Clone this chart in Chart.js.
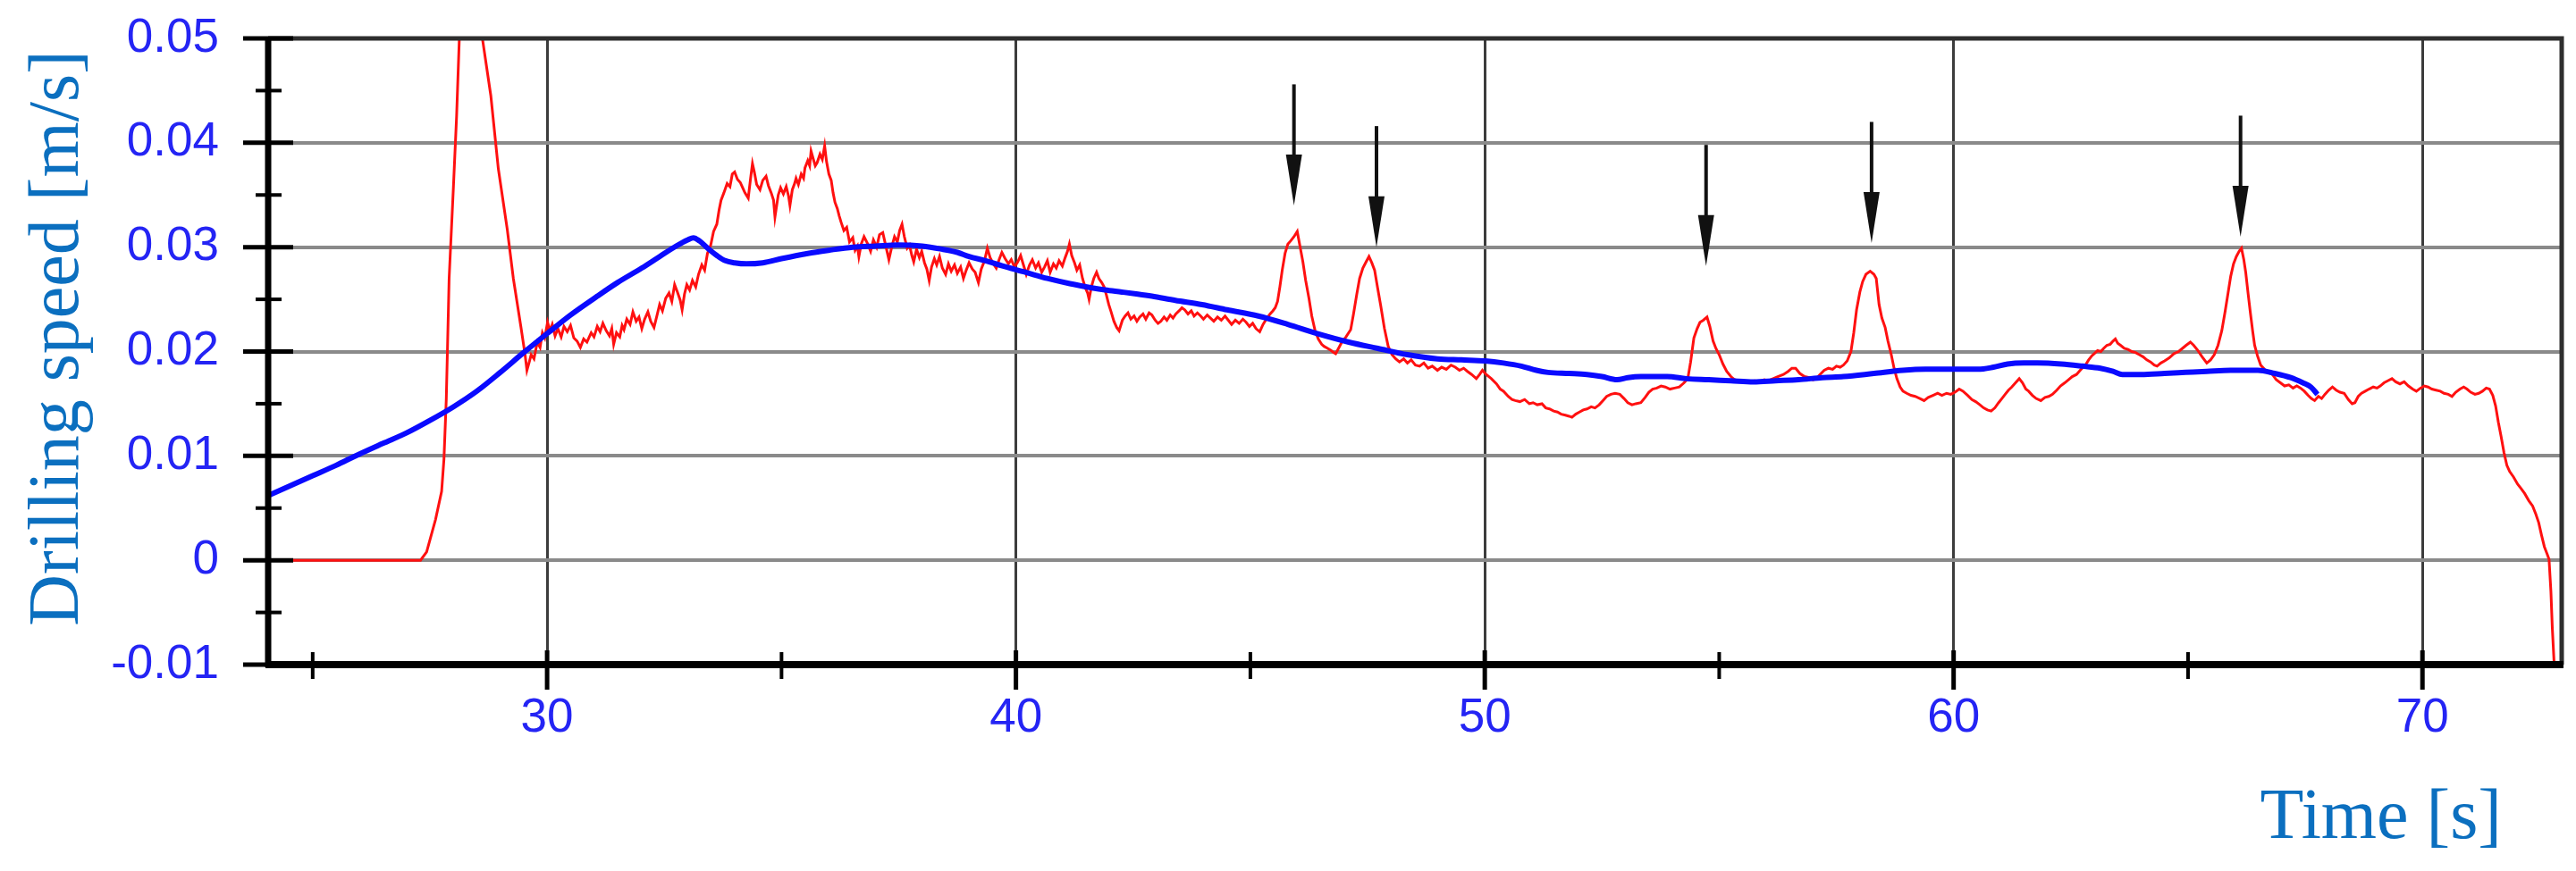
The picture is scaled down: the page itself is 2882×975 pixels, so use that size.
<!DOCTYPE html>
<html>
<head>
<meta charset="utf-8">
<title>Drilling speed</title>
<script src="https://cdn.jsdelivr.net/npm/chart.js@4.4.0/dist/chart.umd.min.js"></script>
<style>
  html, body { margin: 0; padding: 0; background: #fff; }
  canvas { display: block; }
</style>
</head>
<body>
<canvas id="speed-chart" width="2882" height="975"></canvas>
<script>
// axis ticks
var xTickValues = [30, 40, 50, 60, 70];
var xMinorTicks = [25, 35, 45, 55, 65];
var yTickValues = [-0.01, 0, 0.01, 0.02, 0.03, 0.04, 0.05];
var yTickLabels = ['-0.01', '0', '0.01', '0.02', '0.03', '0.04', '0.05'];
var yMinorTicks = [-0.005, 0.005, 0.015, 0.025, 0.035, 0.045];

// measured drilling speed (red)
var redTime = [
  24.05, 27.30, 27.43, 27.62, 27.75, 27.80, 27.85, 27.91, 28.00, 28.07,
  28.13, 28.37, 28.61, 28.80, 28.96, 29.15, 29.28, 29.44, 29.53, 29.57,
  29.62, 29.66, 29.72, 29.79, 29.85, 29.90, 29.95, 30.01, 30.06, 30.11,
  30.17, 30.23, 30.30, 30.36, 30.43, 30.50, 30.57, 30.64, 30.71, 30.78,
  30.85, 30.94, 31.00, 31.07, 31.13, 31.19, 31.26, 31.33, 31.38, 31.42,
  31.48, 31.55, 31.60, 31.64, 31.70, 31.77, 31.83, 31.90, 31.96, 32.02,
  32.08, 32.15, 32.21, 32.28, 32.34, 32.40, 32.46, 32.53, 32.60, 32.66,
  32.72, 32.78, 32.84, 32.88, 32.93, 32.98, 33.04, 33.10, 33.17, 33.23,
  33.30, 33.36, 33.42, 33.49, 33.55, 33.62, 33.67, 33.71, 33.77, 33.84,
  33.90, 33.95, 34.00, 34.06, 34.12, 34.16, 34.22, 34.29, 34.34, 34.38,
  34.42, 34.47, 34.54, 34.60, 34.67, 34.72, 34.78, 34.83, 34.86, 34.90,
  34.93, 34.98, 35.04, 35.10, 35.15, 35.18, 35.23, 35.28, 35.31, 35.36,
  35.42, 35.47, 35.50, 35.56, 35.60, 35.63, 35.68, 35.72, 35.76, 35.82,
  35.87, 35.92, 35.96, 36.01, 36.06, 36.10, 36.14, 36.19, 36.23, 36.27,
  36.33, 36.39, 36.45, 36.52, 36.57, 36.62, 36.65, 36.70, 36.76, 36.84,
  36.90, 36.96, 37.03, 37.09, 37.16, 37.22, 37.29, 37.35, 37.41, 37.47,
  37.52, 37.57, 37.62, 37.68, 37.73, 37.78, 37.82, 37.88, 37.94, 37.99,
  38.05, 38.10, 38.15, 38.20, 38.26, 38.31, 38.37, 38.43, 38.50, 38.56,
  38.62, 38.69, 38.75, 38.82, 38.88, 38.94, 39.00, 39.07, 39.13, 39.20,
  39.26, 39.33, 39.39, 39.45, 39.52, 39.58, 39.64, 39.70, 39.77, 39.84,
  39.90, 39.97, 40.04, 40.10, 40.16, 40.22, 40.29, 40.35, 40.42, 40.48,
  40.55, 40.61, 40.67, 40.73, 40.80, 40.86, 40.92, 40.99, 41.05, 41.10,
  41.14, 41.19, 41.25, 41.30, 41.36, 41.42, 41.48, 41.53, 41.56, 41.61,
  41.66, 41.72, 41.77, 41.83, 41.88, 41.93, 41.98, 42.03, 42.09, 42.15,
  42.20,
  42.27, 42.33, 42.39, 42.45, 42.52, 42.58, 42.64, 42.71, 42.77, 42.84,
  42.90, 42.97, 43.03, 43.09, 43.16, 43.22, 43.29, 43.35, 43.41, 43.48,
  43.54, 43.60, 43.67, 43.74, 43.80, 43.87, 43.94, 44.00, 44.08, 44.15,
  44.22, 44.30, 44.38, 44.46, 44.53, 44.60, 44.68, 44.76, 44.84, 44.91,
  44.98, 45.05, 45.12, 45.20, 45.27, 45.34, 45.42, 45.48, 45.53, 45.58,
  45.63, 45.68, 45.74, 45.80, 45.86, 45.93, 46.00, 46.05, 46.12, 46.18,
  46.25, 46.31, 46.38, 46.45, 46.52, 46.57, 46.65, 46.72, 46.78, 46.82,
  46.88, 46.95, 47.04, 47.14, 47.20, 47.27, 47.33, 47.40, 47.47, 47.53,
  47.59, 47.65, 47.71, 47.78, 47.86, 47.94, 48.02, 48.10,
  48.18, 48.27, 48.35, 48.43, 48.52, 48.61, 48.70, 48.79, 48.88, 48.99,
  49.08, 49.18, 49.28, 49.37, 49.46, 49.55, 49.63, 49.72, 49.82, 49.89,
  49.95, 50.03, 50.14, 50.25, 50.33, 50.40, 50.50, 50.58, 50.65, 50.75,
  50.85, 50.95, 51.03, 51.12, 51.22, 51.30, 51.38, 51.47, 51.55, 51.63,
  51.72, 51.80, 51.86, 51.94, 52.02, 52.10, 52.18, 52.27, 52.35, 52.44,
  52.52, 52.60, 52.69, 52.78, 52.88, 52.97, 53.05, 53.14, 53.22, 53.33,
  53.42, 53.50, 53.58, 53.67, 53.76, 53.85, 53.95, 54.05, 54.15, 54.25,
  54.33,
  54.39, 54.46, 54.53, 54.59, 54.66, 54.74, 54.80, 54.87, 54.93, 55.00,
  55.08, 55.16, 55.25, 55.33, 55.41, 55.50, 55.58, 55.67, 55.76, 55.86,
  55.96, 56.05, 56.15, 56.25, 56.37, 56.47, 56.55, 56.63, 56.72, 56.82,
  56.92, 57.00, 57.07, 57.15, 57.24, 57.33, 57.42, 57.50, 57.58, 57.65,
  57.73, 57.81, 57.87, 57.93, 58.00, 58.06, 58.13, 58.22, 58.30, 58.35,
  58.41, 58.47, 58.54, 58.60, 58.67, 58.73, 58.79, 58.86, 58.92, 59.00,
  59.09, 59.18, 59.28, 59.37, 59.46, 59.56, 59.66, 59.75, 59.85, 59.94,
  60.03, 60.12, 60.20, 60.30, 60.39, 60.47, 60.56, 60.64, 60.72, 60.80,
  60.88, 60.96, 61.03, 61.10, 61.17, 61.24, 61.32, 61.40, 61.47, 61.54,
  61.60, 61.68, 61.76, 61.86, 61.95, 62.03, 62.11, 62.20, 62.28, 62.37,
  62.45, 62.53, 62.62, 62.70, 62.76, 62.81, 62.88, 62.95, 63.00, 63.07,
  63.14, 63.20, 63.27, 63.34, 63.40, 63.45, 63.50, 63.56, 63.64, 63.72,
  63.80, 63.88, 63.96, 64.04, 64.12, 64.20, 64.28, 64.34, 64.42, 64.50,
  64.60, 64.70, 64.80, 64.88, 64.96, 65.05, 65.12, 65.21, 65.30, 65.40,
  65.48, 65.56, 65.64, 65.72, 65.79, 65.85, 65.91, 65.97, 66.03, 66.09,
  66.14, 66.19, 66.23, 66.28, 66.33, 66.38, 66.42, 66.48, 66.55, 66.63,
  66.72, 66.80, 66.88, 66.97, 67.06, 67.15, 67.24, 67.32, 67.40, 67.48,
  67.56, 67.63, 67.70, 67.78, 67.85, 67.92, 68.00, 68.08, 68.16, 68.24,
  68.33, 68.42, 68.50, 68.56, 68.63, 68.70, 68.78, 68.86, 68.95, 69.03,
  69.10, 69.18, 69.26, 69.35, 69.43, 69.52, 69.61, 69.70, 69.79, 69.87,
  69.96, 70.04, 70.12, 70.20, 70.29, 70.38, 70.46, 70.55, 70.63, 70.71,
  70.80, 70.88, 70.95, 71.03, 71.12, 71.20, 71.28, 71.36, 71.43, 71.50,
  71.56, 71.62, 71.68, 71.74, 71.80, 71.86, 71.94, 72.03, 72.10, 72.18,
  72.27, 72.35, 72.42, 72.48, 72.54, 72.60, 72.66, 72.70, 72.74, 72.77,
  72.81, 72.84
];
var redSpeed = [
  0, 0, .0008, .0039, .0066, .0097, .0155, .0270, .0356, .0426,
  .0503, .0580, .0503, .0445, .0375, .0317, .0270, .0224, .0197, .0182,
  .0190, .0197, .0193, .0209, .0204, .0218, .0213, .0228, .0220, .0226,
  .0215, .0222, .0214, .0224, .0219, .0225, .0213, .0210, .0204, .0212,
  .0209, .0218, .0214, .0224, .0219, .0227, .0220, .0215, .0222, .0207,
  .0218, .0214, .0225, .0221, .0231, .0226, .0238, .0229, .0233, .0222,
  .0231, .0238, .0229, .0223, .0234, .0245, .0239, .0251, .0256, .0248,
  .0264, .0257, .0249, .0240, .0255, .0264, .0259, .0268, .0262, .0274,
  .0283, .0278, .0294, .0302, .0315, .0322, .0336, .0345, .0352, .0361,
  .0358, .0370, .0372, .0365, .0362, .0358, .0352, .0347, .0366, .0380,
  .0372, .0360, .0355, .0364, .0368, .0359, .0352, .0345, .0329, .0341,
  .0350, .0357, .0351, .0358, .0349, .0340, .0355, .0361, .0366, .0360,
  .0370, .0366, .0376, .0383, .0378, .0392, .0384, .0378, .0381, .0389,
  .0384, .0397, .0382, .0370, .0364, .0352, .0343, .0337, .0330, .0324,
  .0316, .0319, .0305, .0309, .0297, .0301, .0291, .0303, .0310, .0303,
  .0296, .0307, .0300, .0312, .0314, .0302, .0288, .0300, .0310, .0305,
  .0316, .0322, .0310, .0299, .0302, .0292, .0286, .0298, .0290, .0296,
  .0285, .0279, .0268, .0281, .0289, .0283, .0291, .0280, .0274, .0284,
  .0277, .0283, .0275, .0281, .0270, .0278, .0285, .0279, .0276, .0266,
  .0279, .0287, .0299, .0290, .0284, .0280, .0288, .0295, .0289, .0284,
  .0288, .0281, .0286, .0292, .0283, .0274, .0283, .0288, .0280, .0285,
  .0276, .0281, .0287, .0276, .0284, .0280, .0287, .0282, .0290, .0296,
  .0303, .0292, .0285, .0278, .0283, .0270, .0261, .0256, .0250, .0262,
  .0270, .0276, .0270, .0266, .0262, .0254, .0245, .0238, .0229, .0223,
  .0220,
  .0230, .0234, .0237, .0231, .0234, .0229, .0233, .0236, .0231, .0237,
  .0235, .0230, .0227, .0229, .0233, .0230, .0235, .0232, .0236, .0239,
  .0242, .0240, .0236, .0239, .0234, .0237, .0234, .0231, .0235, .0232,
  .0229, .0233, .0230, .0234, .0230, .0226, .0230, .0227, .0231, .0228,
  .0224, .0227, .0222, .0219, .0226, .0231, .0236, .0239, .0242, .0248,
  .0262, .0278, .0294, .0303, .0306, .0310, .0315, .0303, .0286, .0268,
  .0251, .0234, .0220, .0212, .0207, .0205, .0203, .0201, .0199, .0198,
  .0203, .0209, .0214, .0221, .0236, .0255, .0270, .0280, .0286, .0291,
  .0285, .0278, .0262, .0244, .0222, .0205, .0197, .0193,
  .0190, .0193, .0189, .0192, .0187, .0186, .0189, .0184, .0186, .0182,
  .0185, .0183, .0187, .0185, .0182, .0184, .0181, .0178, .0174, .0178,
  .0182, .0178, .0174, .0169, .0164, .0162, .0157, .0154, .0153, .0152,
  .0154, .0150, .0151, .0149, .0150, .0146, .0145, .0143, .0142, .0140,
  .0139, .0138, .0137, .0140, .0142, .0144, .0145, .0147, .0146, .0149,
  .0153, .0157, .0159, .0160, .0159, .0155, .0151, .0149, .0150, .0151,
  .0156, .0161, .0164, .0165, .0167, .0166, .0164, .0165, .0166, .0170,
  .0174,
  .0190, .0213, .0222, .0228, .0230, .0233, .0224, .0210, .0203, .0197,
  .0188, .0181, .0176, .0173, .0172, .0171, .0170, .0170, .0172, .0171,
  .0173, .0172, .0174, .0176, .0178, .0181, .0184, .0184, .0179, .0176,
  .0175, .0173, .0174, .0178, .0182, .0184, .0183, .0186, .0185, .0187,
  .0191, .0200, .0218, .0240, .0257, .0267, .0274, .0277, .0274, .0270,
  .0245, .0232, .0223, .0210, .0197, .0184, .0174, .0166, .0162, .0160,
  .0158, .0157, .0155, .0153, .0156, .0158, .0160, .0158, .0160, .0159,
  .0161, .0164, .0162, .0158, .0154, .0152, .0149, .0146, .0144, .0143,
  .0146, .0151, .0155, .0159, .0163, .0166, .0170, .0174, .0170, .0164,
  .0162, .0158, .0155, .0153, .0156, .0157, .0159, .0163, .0167, .0170,
  .0173, .0176, .0178, .0182, .0185, .0187, .0192, .0196, .0198, .0201,
  .0200, .0203, .0206, .0207, .0210, .0212, .0208, .0206, .0203, .0202,
  .0200, .0199, .0197, .0195, .0192, .0190, .0187, .0186, .0189, .0191,
  .0194, .0198, .0200, .0203, .0206, .0209, .0206, .0201, .0195, .0189,
  .0192, .0197, .0206, .0220, .0238, .0255, .0272, .0284, .0291, .0296,
  .0299, .0288, .0276, .0256, .0237, .0219, .0206, .0196, .0187, .0183,
  .0180, .0178, .0173, .0170, .0167, .0168, .0165, .0167, .0165, .0162,
  .0158, .0155, .0153, .0157, .0155, .0159, .0163, .0166, .0163, .0161,
  .0160, .0154, .0150, .0151, .0157, .0160, .0162, .0164, .0166, .0165,
  .0167, .0170, .0172, .0174, .0171, .0169, .0171, .0167, .0164, .0162,
  .0165, .0167, .0166, .0164, .0163, .0162, .0160, .0159, .0157, .0161,
  .0164, .0166, .0164, .0161, .0159, .0160, .0162, .0165, .0164, .0158,
  .0148, .0132, .0118, .0103, .0091, .0085, .0080, .0073, .0069, .0064,
  .0057, .0052, .0044, .0036, .0024, .0013, .0006, .0001, -.0030, -.0065,
  -.0100, -.0120
];

// smoothed speed (blue)
var blueTime = [
  24.05, 24.5, 25.0, 25.5, 25.96, 26.5, 27.0, 27.5, 28.0, 28.5,
  29.0, 29.5, 30.05, 30.5, 31.07, 31.5, 32.02, 32.4, 32.75, 33.0,
  33.12, 33.25, 33.45, 33.62, 33.8, 34.0, 34.25, 34.6, 35.0, 35.56,
  36.0, 36.52, 37.0, 37.48, 38.0, 38.43, 38.75, 39.0, 39.35, 39.71,
  40.2, 40.67, 41.15, 41.62, 41.9, 42.26, 42.6, 42.9, 43.4, 43.97,
  44.5, 45.17, 45.8, 46.44, 47.1, 47.72, 48.35, 48.99, 49.5, 50.01,
  50.4, 50.78, 51.1, 51.35, 51.8, 52.18, 52.5, 52.82, 53.05, 53.33,
  53.89, 54.3, 54.78, 55.25, 55.73, 56.2, 56.69, 57.2, 57.65, 58.3,
  58.92, 59.4, 59.88, 60.52, 60.85, 61.15, 61.5, 61.79, 62.3, 62.75,
  63.13, 63.4, 63.6, 64.0, 64.5, 64.95, 65.4, 65.91, 66.49, 66.85,
  67.19, 67.45, 67.62, 67.76
];
var blueSpeed = [
  .0062, .0071, .0081, .0091, .0101, .0112, .0122, .0134, .0147, .0162,
  .0180, .0199, .0219, .0235, .0253, .0266, .0280, .0291, .0301, .0307,
  .0309, .0306, .0298, .0292, .0287, .0285, .0284, .0285, .0289, .0294,
  .0297, .0300, .0301, .0302, .0301, .0298, .0295, .0291, .0287, .0282,
  .0276, .0270, .0265, .0261, .0259, .0257, .0255, .0253, .0249, .0245,
  .0240, .0234, .0226, .0217, .0209, .0203, .0197, .0193, .0192, .0191,
  .0189, .0186, .0182, .0180, .0179, .0178, .0176, .0173, .0175, .0176,
  .0176, .0174, .0173, .0172, .0171, .0172, .0173, .0175, .0176, .0179,
  .0182, .0183, .0183, .0183, .0185, .0188, .0189, .0189, .0188, .0186,
  .0184, .0181, .0178, .0178, .0179, .0180, .0181, .0182, .0182, .0179,
  .0175, .0170, .0166, .0159
];

// arrows pointing at the peaks
var arrowTimes = [45.93, 47.69, 54.72, 58.25, 66.12];
var arrowTops = [0.0456, 0.0416, 0.0398, 0.0420, 0.0426];
var arrowTips = [0.0340, 0.0300, 0.0282, 0.0304, 0.0310];

var tickColor = '#2424f4';
var titleColor = '#0b6fbf';
var tickFont = "'Liberation Sans Narrow', 'Liberation Sans', Arial, sans-serif";
var titleFont = "'Liberation Serif', 'Times New Roman', serif";

function toPoints(xs, ys) {
    var pts = [];
    var n = Math.min(xs.length, ys.length);
    if (xs.length != ys.length) {
        console.log('length mismatch', xs.length, ys.length);
    }
    for (var i = 0; i < n; i++) {
        pts.push({ x: xs[i], y: ys[i] });
    }
    return pts;
}

// frame, tick marks, arrows and axis titles
var framePlugin = {
    id: 'frame',
    afterDatasetsDraw: function(chart) {
        var c = chart.ctx;
        var area = chart.chartArea;
        var xs = chart.scales.x;
        var ys = chart.scales.y;

        c.save();
        c.lineCap = 'butt';

        // top and right border
        c.strokeStyle = '#2e2e2e';
        c.lineWidth = 5;
        c.beginPath();
        c.moveTo(area.left, area.top);
        c.lineTo(area.right, area.top);
        c.lineTo(area.right, area.bottom);
        c.stroke();

        // axes
        c.strokeStyle = '#000';
        c.lineWidth = 7;
        c.beginPath();
        c.moveTo(area.left, area.top - 2);
        c.lineTo(area.left, area.bottom + 3);
        c.stroke();
        c.lineWidth = 8;
        c.beginPath();
        c.moveTo(area.left - 3, area.bottom);
        c.lineTo(area.right + 2, area.bottom);
        c.stroke();

        // y tick marks, crossing the axis
        c.lineWidth = 5;
        yTickValues.forEach(function(v) {
            var y = ys.getPixelForValue(v);
            c.beginPath();
            c.moveTo(area.left - 28, y);
            c.lineTo(area.left + 28, y);
            c.stroke();
        });
        c.lineWidth = 4;
        yMinorTicks.forEach(function(v) {
            var y = ys.getPixelForValue(v);
            c.beginPath();
            c.moveTo(area.left - 14, y);
            c.lineTo(area.left + 15, y);
            c.stroke();
        });

        // x tick marks
        c.lineWidth = 5;
        xTickValues.forEach(function(v) {
            var x = xs.getPixelForValue(v);
            c.beginPath();
            c.moveTo(x, area.bottom - 16);
            c.lineTo(x, area.bottom + 28);
            c.stroke();
        });
        c.lineWidth = 4;
        xMinorTicks.forEach(function(v) {
            var x = xs.getPixelForValue(v);
            c.beginPath();
            c.moveTo(x, area.bottom - 14);
            c.lineTo(x, area.bottom + 16);
            c.stroke();
        });

        // arrows
        c.strokeStyle = '#111';
        c.fillStyle = '#111';
        arrowTimes.forEach(function(t, i) {
            var x = xs.getPixelForValue(t);
            var yTop = ys.getPixelForValue(arrowTops[i]);
            var yTip = ys.getPixelForValue(arrowTips[i]);
            var headLen = 57;
            c.lineWidth = 4;
            c.beginPath();
            c.moveTo(x, yTop);
            c.lineTo(x, yTip - headLen + 4);
            c.stroke();
            c.beginPath();
            c.moveTo(x - 9, yTip - headLen);
            c.lineTo(x + 9, yTip - headLen);
            c.lineTo(x, yTip);
            c.closePath();
            c.fill();
        });

        // axis titles
        c.fillStyle = titleColor;
        c.font = '80px ' + titleFont;
        c.textBaseline = 'alphabetic';
        c.textAlign = 'right';
        c.fillText('Time [s]', area.right - 67, 938);

        c.translate(87, (area.top + area.bottom) / 2 - 15);
        c.rotate(-Math.PI / 2);
        c.textAlign = 'center';
        c.fillText('Drilling speed [m/s]', 0, 0);
        c.restore();
    }
};

var ctx = document.getElementById('speed-chart');

new Chart(ctx, {
    type: 'line',
    data: {
        datasets: [{
            label: 'smoothed',
            data: toPoints(blueTime, blueSpeed),
            borderColor: '#0a0aff',
            borderWidth: 6,
            pointRadius: 0,
            cubicInterpolationMode: 'monotone',
            clip: 0
        }, {
            label: 'measured',
            data: toPoints(redTime, redSpeed),
            borderColor: '#ff1010',
            borderWidth: 3,
            pointRadius: 0,
            tension: 0,
            clip: 0
        }]
    },
    options: {
        responsive: false,
        animation: false,
        devicePixelRatio: 1,
        layout: { padding: { top: 43, right: 16, left: 0, bottom: 0 } },
        plugins: {
            legend: { display: false },
            tooltip: { enabled: false }
        },
        scales: {
            x: {
                type: 'linear',
                min: 24.05,
                max: 72.97,
                afterBuildTicks: function(scale) {
                    scale.ticks = xTickValues.map(function(v) { return { value: v }; });
                },
                afterFit: function(scale) {
                    scale.height = 231;
                    scale.paddingLeft = 0;
                    scale.paddingRight = 0;
                },
                border: { display: false },
                grid: { color: '#3c3c3c', lineWidth: 3, drawTicks: false },
                ticks: {
                    color: tickColor,
                    font: { family: tickFont, size: 53 },
                    padding: 29,
                    maxRotation: 0,
                    autoSkip: false
                }
            },
            y: {
                type: 'linear',
                min: -0.01,
                max: 0.05,
                afterBuildTicks: function(scale) {
                    scale.ticks = yTickValues.map(function(v) { return { value: v }; });
                },
                afterFit: function(scale) {
                    scale.width = 300;
                    // the top label may stick out above the plot, as in the picture
                    scale.paddingTop = 0;
                    scale.paddingBottom = 0;
                },
                border: { display: false },
                grid: { color: '#8a8a8a', lineWidth: 4, drawTicks: false },
                ticks: {
                    color: tickColor,
                    font: { family: tickFont, size: 53 },
                    padding: 55,
                    autoSkip: false,
                    callback: function(value, index) { return yTickLabels[index]; }
                }
            }
        }
    },
    plugins: [framePlugin]
});
</script>
</body>
</html>
